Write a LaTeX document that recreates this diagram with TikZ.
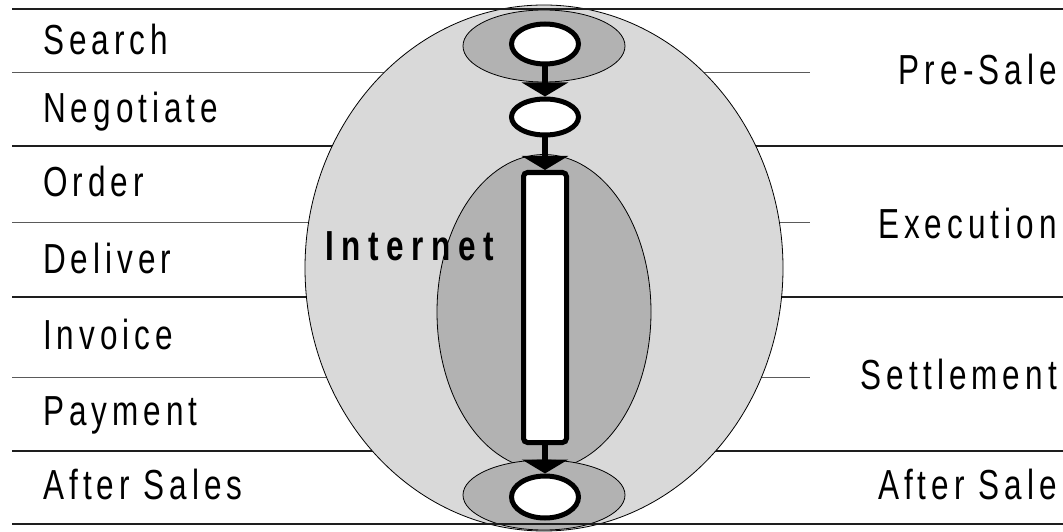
\documentclass[tikz,border=0pt]{standalone}
\usepackage{fontspec}
\setmainfont{Liberation Sans}
\newfontfamily\stagefont{Liberation Sans}[LetterSpace=12,FakeStretch=0.75]
\newfontfamily\netfont{Liberation Sans Bold}[LetterSpace=18,FakeStretch=0.75]
\usetikzlibrary{shapes.geometric,arrows.meta}
\definecolor{outerfill}{RGB}{217,217,217}
\definecolor{innerfill}{RGB}{178,178,178}
\definecolor{rulecol}{RGB}{30,30,30}
\definecolor{thincol}{RGB}{90,90,90}

\begin{document}
\begin{tikzpicture}[
    x=1pt, y=-1pt,
    >={Triangle[width=46pt,length=14pt]},
    rule/.style={line width=1.6pt, color=rulecol},
    thinrule/.style={line width=1pt, color=thincol},
    zone/.style={ellipse, draw=black, line width=0.8pt, fill=innerfill, inner sep=0pt},
    stepbox/.style={ellipse, draw=black, line width=5pt, fill=white, inner sep=0pt,
                    minimum width=67pt, minimum height=40pt},
    flow/.style={->, line width=6pt},
    stage/.style={font=\stagefont\fontsize{42}{46}\selectfont, inner sep=0pt},
]
\useasboundingbox (0,0) rectangle (1063,532);

% ============ TABLE RULES (under the circle) ============
\draw[thinrule] (12,73) -- (810,73);
\draw[rule] (12,146) -- (1063,146);
\draw[thinrule] (12,222) -- (810,222);
\draw[rule] (12,297) -- (1063,297);
\draw[thinrule] (12,377) -- (810,377);
\draw[rule] (12,451) -- (1063,451);

% ============ INTERNET CIRCLE ============
\node[ellipse, draw=black, line width=0.8pt, fill=outerfill, inner sep=0pt,
      minimum width=478pt, minimum height=526pt] (net) at (544,268) {};

% phase zones
\node[zone, minimum width=162pt, minimum height=72pt] (prezone) at (544,46) {};
\node[zone, minimum width=214pt, minimum height=315pt] (exezone) at (544,312) {};
\node[zone, minimum width=162pt, minimum height=70pt] (postzone) at (544,495) {};

% process steps
\node[stepbox] (search) at (545,44) {};
\node[stepbox, minimum height=36pt] (negotiate) at (545,117) {};
\node[draw=black, line width=5pt, fill=white, rounded corners=4pt, inner sep=0pt,
      minimum width=43pt, minimum height=270pt] (process) at (545,307.5) {};
\node[stepbox, minimum height=42pt] (aftersales) at (545,497) {};

\draw[flow] (search) -- (negotiate);
\draw[flow] (negotiate) -- (process);
\draw[flow] (process) -- (aftersales);

\node[inner sep=0pt, font=\netfont\fontsize{42}{46}\selectfont, anchor=base west] (inet) at (325,260) {Internet};

% ============ LEFT: ACTIVITIES ============
\node[stage, anchor=base west] (l1) at (43,55) {Search};
\node[stage, anchor=base west] (l2) at (43,123) {Negotiate};
\node[stage, anchor=base west] (l3) at (43,196) {Order};
\node[stage, anchor=base west] (l4) at (43,273) {Deliver};
\node[stage, anchor=base west] (l5) at (43,349) {Invoice};
\node[stage, anchor=base west] (l6) at (43,425) {Payment};
\node[stage, anchor=base west] (l7) at (43,499) {After Sales};

% ============ RIGHT: PHASES ============
\node[stage, anchor=base east] (r1) at (1057,85) {Pre-Sale};
\node[stage, anchor=base east] (r2) at (1057,238) {Execution};
\node[stage, anchor=base east] (r3) at (1057,389) {Settlement};
\node[stage, anchor=base east] (r4) at (1057,499) {After Sale};

% ============ TOP / BOTTOM RULES ============
\draw[rule] (12,9) -- (1063,9);
\draw[rule] (12,524) -- (1063,524);

\end{tikzpicture}
\end{document}
